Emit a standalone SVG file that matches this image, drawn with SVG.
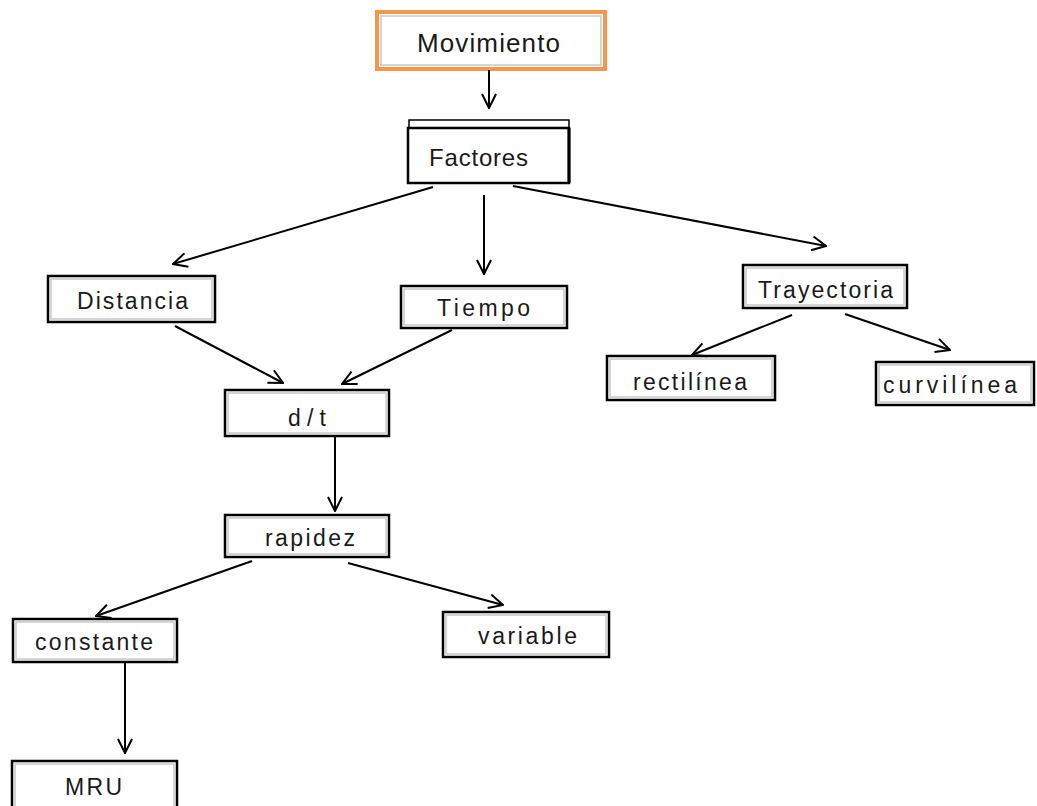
<svg xmlns="http://www.w3.org/2000/svg" width="1037" height="806" viewBox="0 0 1037 806">
<style>
.box{fill:#fff;stroke:#000;stroke-width:2.5}
.inner{fill:none;stroke:#c8c8c8;stroke-width:1.5}
.lbl{font-family:"Liberation Sans",Arial,sans-serif;font-size:23px;fill:#1a1a1a;text-anchor:start}
.con{stroke:#000;stroke-width:2;fill:none;marker-end:url(#ah)}
</style>
<defs>
<marker id="ah" viewBox="0 0 16 16" refX="15" refY="8" markerWidth="16" markerHeight="16" markerUnits="userSpaceOnUse" orient="auto">
<path d="M1,1 L15,8 L1,15" fill="none" stroke="#000" stroke-width="2"/>
</marker>
</defs>
<rect width="1037" height="806" fill="#fff"/>
<g id="movimiento">
<rect x="377" y="12" width="228" height="57" fill="#fff" stroke="#f79646" stroke-width="4"/>
<rect x="381" y="16" width="220" height="49" class="inner"/>
<text x="417" y="52" class="lbl" style="font-size:26px" textLength="143" lengthAdjust="spacing">Movimiento</text>
</g>
<g id="factores">
<rect x="409" y="120" width="160" height="8" fill="#fff" stroke="#000" stroke-width="1.5"/>
<rect x="408" y="128" width="161" height="55" class="box"/>
<line x1="569" y1="128" x2="569" y2="183" stroke="#000" stroke-width="3"/>
<text x="429" y="166" class="lbl" style="font-size:24px" textLength="99" lengthAdjust="spacing">Factores</text>
</g>
<g id="distancia">
<rect x="48" y="276" width="167" height="46" class="box"/>
<rect x="51" y="279" width="161" height="40" class="inner"/>
<text x="77" y="309" class="lbl" textLength="111" lengthAdjust="spacing">Distancia</text>
</g>
<g id="tiempo">
<rect x="401" y="286" width="166" height="42" class="box"/>
<rect x="404" y="289" width="160" height="36" class="inner"/>
<text x="437" y="316" class="lbl" textLength="93" lengthAdjust="spacing">Tiempo</text>
</g>
<g id="trayectoria">
<rect x="743" y="265" width="164" height="43" class="box"/>
<rect x="746" y="268" width="158" height="37" class="inner"/>
<text x="758" y="298" class="lbl" textLength="135" lengthAdjust="spacing">Trayectoria</text>
</g>
<g id="rectilinea">
<rect x="607" y="356" width="168" height="44" class="box"/>
<rect x="610" y="359" width="162" height="38" class="inner"/>
<text x="633" y="390" class="lbl" textLength="114" lengthAdjust="spacing">rectilínea</text>
</g>
<g id="curvilinea">
<rect x="876" y="362" width="158" height="43" class="box"/>
<rect x="879" y="365" width="152" height="37" class="inner"/>
<text x="883" y="393" class="lbl" textLength="134" lengthAdjust="spacing">curvilínea</text>
</g>
<g id="dt">
<rect x="225" y="390" width="164" height="46" class="box"/>
<rect x="228" y="393" width="158" height="40" class="inner"/>
<text x="288" y="426" class="lbl" textLength="38" lengthAdjust="spacing">d/t</text>
</g>
<g id="rapidez">
<rect x="225" y="515" width="164" height="42" class="box"/>
<rect x="228" y="518" width="158" height="36" class="inner"/>
<text x="265" y="546" class="lbl" textLength="90" lengthAdjust="spacing">rapidez</text>
</g>
<g id="constante">
<rect x="13" y="619" width="164" height="43" class="box"/>
<rect x="16" y="622" width="158" height="37" class="inner"/>
<text x="35" y="650" class="lbl" textLength="118" lengthAdjust="spacing">constante</text>
</g>
<g id="variable">
<rect x="443" y="612" width="166" height="45" class="box"/>
<rect x="446" y="615" width="160" height="39" class="inner"/>
<text x="478" y="644" class="lbl" textLength="99" lengthAdjust="spacing">variable</text>
</g>
<g id="mru">
<rect x="12" y="761" width="165" height="50" class="box"/>
<rect x="15" y="764" width="159" height="44" class="inner"/>
<text x="65" y="795" class="lbl" textLength="57" lengthAdjust="spacing">MRU</text>
</g>
<g id="connectors">
<line x1="489" y1="70" x2="489" y2="108" class="con"/>
<line x1="433" y1="187" x2="173" y2="264" class="con"/>
<line x1="484" y1="195" x2="484" y2="274" class="con"/>
<line x1="513" y1="186" x2="826" y2="246" class="con"/>
<line x1="175" y1="326" x2="283" y2="383" class="con"/>
<line x1="452" y1="330" x2="342" y2="384" class="con"/>
<line x1="335" y1="437" x2="335" y2="511" class="con"/>
<line x1="792" y1="315" x2="692" y2="355" class="con"/>
<line x1="845" y1="314" x2="950" y2="350" class="con"/>
<line x1="252" y1="561" x2="96" y2="616" class="con"/>
<line x1="348" y1="563" x2="503" y2="605" class="con"/>
<line x1="125" y1="663" x2="125" y2="753" class="con"/>
</g>
</svg>
